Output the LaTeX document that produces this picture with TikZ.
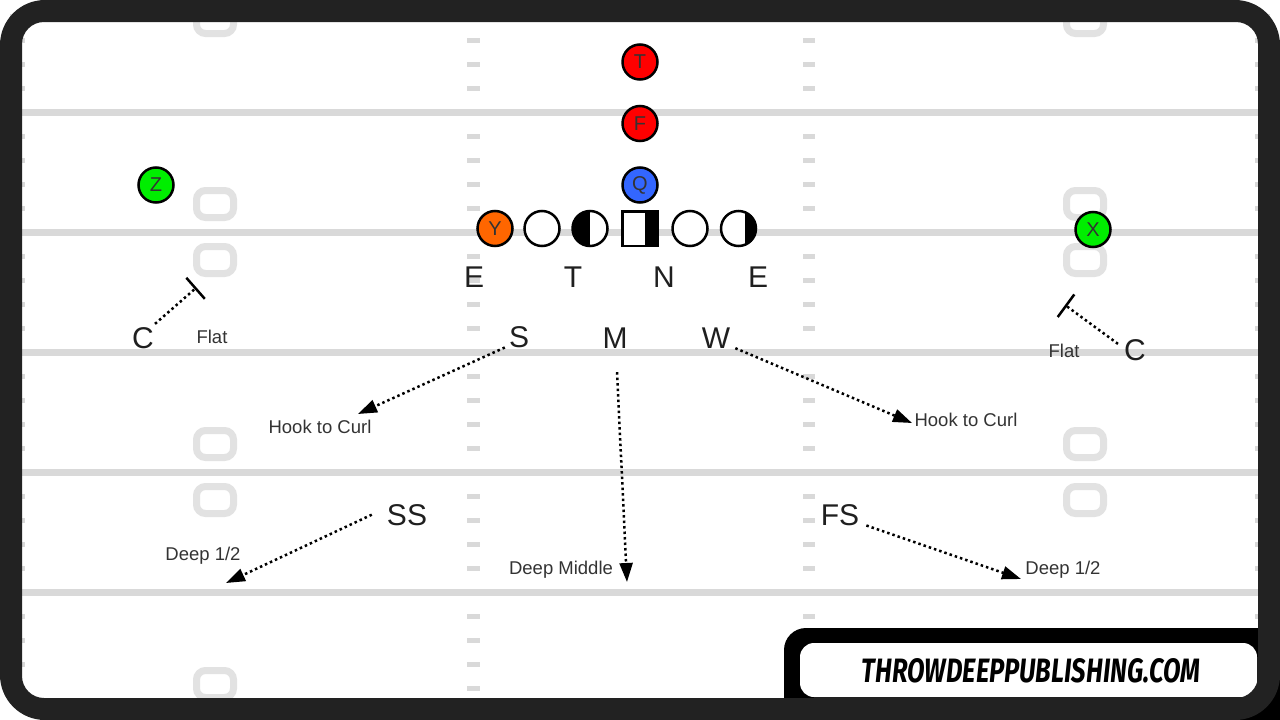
\documentclass[tikz,border=0pt]{standalone}
\usepackage{fontspec}
\usepackage{graphicx}
\setmainfont{Liberation Sans}
\newfontfamily\logofont{Fira Sans}
\usetikzlibrary{arrows.meta,calc}
\definecolor{framec}{RGB}{34,34,34}
\definecolor{yardc}{RGB}{217,217,217}
\definecolor{boxc}{RGB}{226,226,226}
\definecolor{redp}{RGB}{255,0,0}
\definecolor{bluep}{RGB}{51,102,255}
\definecolor{greenp}{RGB}{0,238,0}
\definecolor{orangep}{RGB}{255,102,0}
\definecolor{labc}{RGB}{51,51,51}
\tikzset{
  player/.style={circle,draw=black,line width=2.5pt,minimum size=35pt,inner sep=0pt,font=\fontsize{20}{20}\selectfont,text=black!80},
  lineman/.style={circle,draw=black,line width=2.5pt,fill=white,minimum size=35pt,inner sep=0pt},
  bigl/.style={anchor=base,inner sep=0pt,font=\fontsize{30}{30}\selectfont,text=black!88},
  smalll/.style={anchor=base,inner sep=0pt,font=\fontsize{18.5}{18.5}\selectfont,text=labc},
  zone/.style={line width=2.5pt,dash pattern=on 2.5pt off 3pt,-{Triangle[length=19pt,width=13pt]}},
  flatroute/.style={line width=2.5pt,dash pattern=on 2.5pt off 3pt,-{Bar[width=28pt]}},
  yard/.style={yardc,line width=7pt},
  hashm/.style={yardc,line width=5pt},
  numbox/.style={boxc,line width=7pt,rounded corners=9pt},
}
\begin{document}
\begin{tikzpicture}[x=1pt,y=-1pt]
\useasboundingbox (0,0) rectangle (1280,720);
\fill[white] (0,0) rectangle (1280,720);
% field
\foreach \y in {112,232,352,472,592} \draw[yard] (0,\y) -- (1280,\y);
\foreach \L in {-8,112,232,352,472,592,712} {
  \foreach \k in {24,48,72,96} {
    \draw[hashm] (467,\L+\k) -- (480,\L+\k);
    \draw[hashm] (803,\L+\k) -- (815,\L+\k);
    \draw[hashm] (10,\L+\k) -- (25,\L+\k);
    \draw[hashm] (1255,\L+\k) -- (1270,\L+\k);
  }
}
\foreach \c in {-8,232,472,712} {
  \foreach \d in {-28,28} {
    \foreach \x in {215,1085} {
      \draw[numbox] (\x-18.5,\c+\d-13.5) rectangle (\x+18.5,\c+\d+13.5);
    }
  }
}
% offense
\node[player,fill=redp] (T) at (640,62) {T};
\node[player,fill=redp] (F) at (640,123.5) {F};
\node[player,fill=bluep] (Q) at (640,185) {Q};
\node[player,fill=greenp] (Z) at (156,185) {Z};
\node[player,fill=greenp] (X) at (1093,229.5) {X};
\node[player,fill=orangep] (Y) at (495,228.5) {Y};
\node[lineman] (LT) at (542,228.5) {};
\node[lineman,path picture={\fill[black] (path picture bounding box.north west) rectangle (path picture bounding box.south);}] (LG) at (590,228.5) {};
\node[lineman,rectangle,minimum width=35.5pt,minimum height=34.5pt,path picture={\fill[black] ([xshift=5pt]path picture bounding box.north) rectangle (path picture bounding box.south east);}] (CN) at (640,228.5) {};
\node[lineman] (RG) at (690,228.5) {};
\node[lineman,path picture={\fill[black] ([xshift=6pt]path picture bounding box.north) rectangle (path picture bounding box.south east);}] (RT) at (738.5,228.5) {};
% defensive front
\node[bigl] (E1) at (474,287) {E};
\node[bigl] (T1) at (573,287) {T};
\node[bigl] (N1) at (664,287) {N};
\node[bigl] (E2) at (758,287) {E};
% defenders
\node[bigl] (S) at (519,347) {S};
\node[bigl] (M) at (615,348) {M};
\node[bigl] (W) at (716,348) {W};
\node[bigl] (CL) at (143,348) {C};
\node[bigl] (CR) at (1135,360) {C};
\node[bigl] (SS) at (407,525) {SS};
\node[bigl] (FS) at (840,525) {FS};
% zone labels
\node[smalll] (flatL) at (212,343) {Flat};
\node[smalll] (flatR) at (1064,357) {Flat};
\node[smalll] (hcL) at (320,433) {Hook to Curl};
\node[smalll] (hcR) at (966,426) {Hook to Curl};
\node[smalll] (dhL) at (203,560) {Deep 1/2};
\node[smalll] (dhR) at (1063,574) {Deep 1/2};
\node[smalll] (dm) at (561,574) {Deep Middle};
% drops
\coordinate (hookL) at (358,414);
\coordinate (hookR) at (912,423);
\coordinate (deepM) at (627,582);
\coordinate (deepL) at (226,583);
\coordinate (deepR) at (1021,579);
\coordinate (flatLp) at (196.5,287.5);
\coordinate (flatRp) at (1065,305);
\draw[zone] ($(S.south west)+(-4,0)$) -- (hookL);
\draw[zone] ($(W.south east)+(5,0)$) -- (hookR);
\draw[zone] ($(M.south)+(2,24)$) -- (deepM);
\draw[zone] ($(SS.west)+(-15,0)$) -- (deepL);
\draw[zone] ($(FS.south east)+(7,0)$) -- (deepR);
\draw[flatroute] ($(CL.north east)+(1,-3)$) -- (flatLp);
\draw[flatroute] ($(CR.north west)+(-6,5)$) -- (flatRp);
% logo
\fill[black,rounded corners=22pt] (784,628) rectangle (1290,735);
\fill[white,rounded corners=14pt] (800,643) rectangle (1257,697);
\node[anchor=base,inner sep=0pt] (logo) at (1031,682) {\resizebox{338pt}{24pt}{\logofont\bfseries\itshape THROWDEEPPUBLISHING.COM}};
% frame
\fill[framec,even odd rule] [rounded corners=45pt] (0,0) rectangle (1280,720) [rounded corners=22pt] (22,22) rectangle (1258,698);
\end{tikzpicture}
\end{document}
